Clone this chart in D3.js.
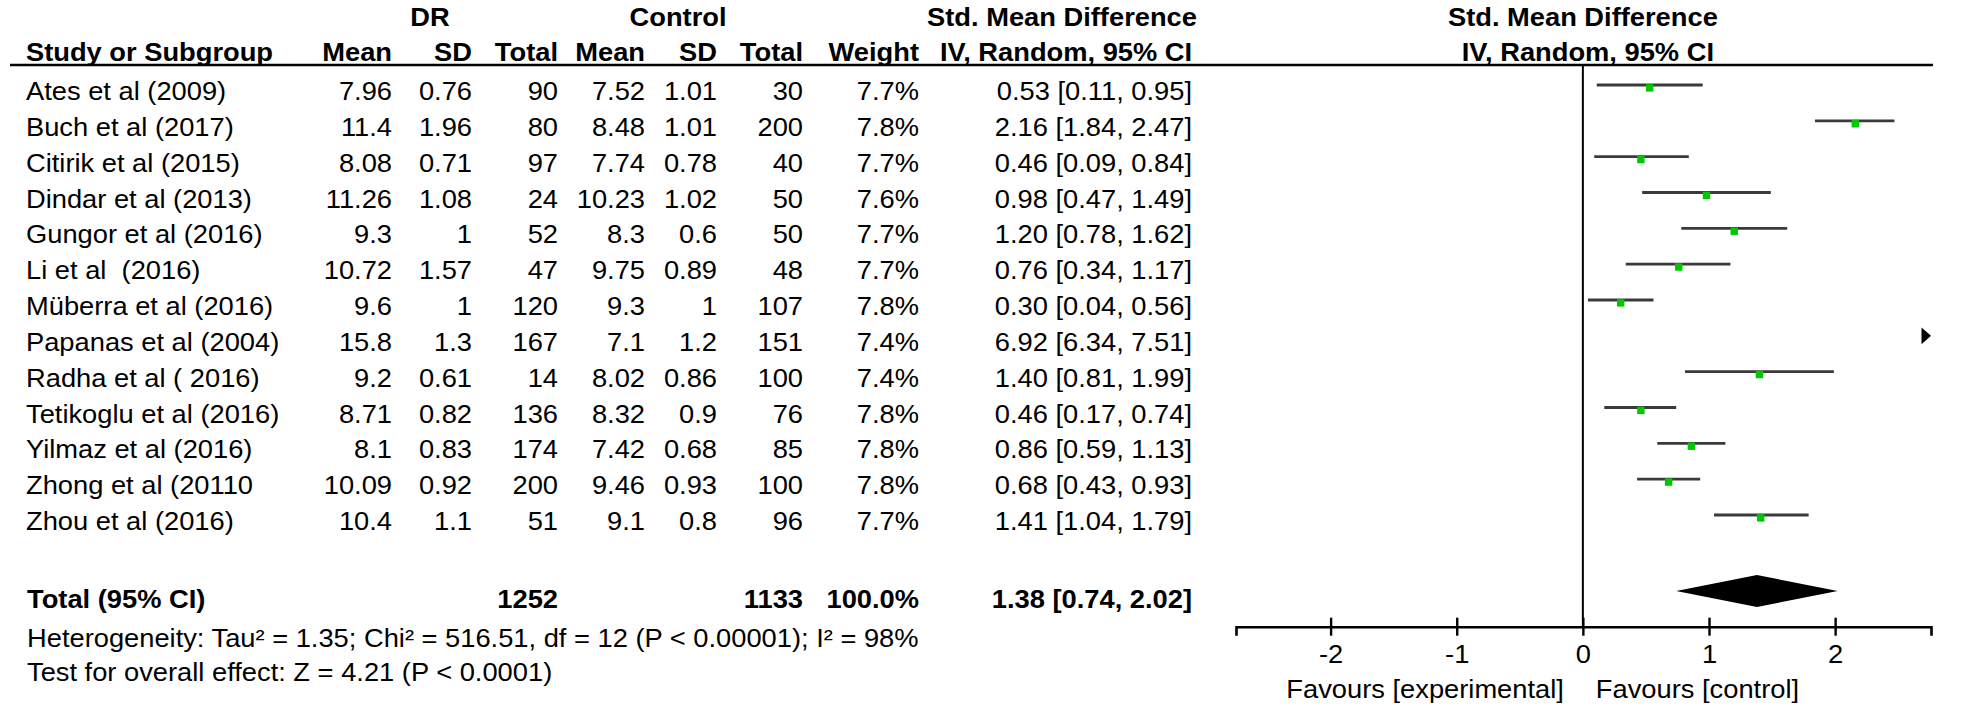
<!DOCTYPE html>
<html>
<head>
<meta charset="utf-8">
<script src="https://cdn.jsdelivr.net/npm/d3@7"></script>
<style>
  html, body { margin: 0; padding: 0; background: #fff; }
  svg { display: block; }
  text { font-family: "Liberation Sans", Arial, sans-serif; fill: #000; white-space: pre; }
</style>
</head>
<body>
<svg id="chart" width="1961" height="708"></svg>
<script>
// ---------------- data ----------------
const studies = ["Ates et al (2009)", "Buch et al (2017)", "Citirik et al (2015)", "Dindar et al (2013)",
  "Gungor et al (2016)", "Li et al  (2016)", "Müberra et al (2016)", "Papanas et al (2004)",
  "Radha et al ( 2016)", "Tetikoglu et al (2016)", "Yilmaz et al (2016)", "Zhong et al (20110",
  "Zhou et al (2016)"];
const drMean = [7.96, 11.4, 8.08, 11.26, 9.3, 10.72, 9.6, 15.8, 9.2, 8.71, 8.1, 10.09, 10.4];
const drSD = [0.76, 1.96, 0.71, 1.08, 1, 1.57, 1, 1.3, 0.61, 0.82, 0.83, 0.92, 1.1];
const drTotal = [90, 80, 97, 24, 52, 47, 120, 167, 14, 136, 174, 200, 51];
const ctMean = [7.52, 8.48, 7.74, 10.23, 8.3, 9.75, 9.3, 7.1, 8.02, 8.32, 7.42, 9.46, 9.1];
const ctSD = [1.01, 1.01, 0.78, 1.02, 0.6, 0.89, 1, 1.2, 0.86, 0.9, 0.68, 0.93, 0.8];
const ctTotal = [30, 200, 40, 50, 50, 48, 107, 151, 100, 76, 85, 100, 96];
const weight = [7.7, 7.8, 7.7, 7.6, 7.7, 7.7, 7.8, 7.4, 7.4, 7.8, 7.8, 7.8, 7.7];
const smd = [0.53, 2.16, 0.46, 0.98, 1.20, 0.76, 0.30, 6.92, 1.40, 0.46, 0.86, 0.68, 1.41];
const ciLow = [0.11, 1.84, 0.09, 0.47, 0.78, 0.34, 0.04, 6.34, 0.81, 0.17, 0.59, 0.43, 1.04];
const ciHigh = [0.95, 2.47, 0.84, 1.49, 1.62, 1.17, 0.56, 7.51, 1.99, 0.74, 1.13, 0.93, 1.79];

const totalDR = 1252, totalCt = 1133, totalWeight = 100.0;
const totalSMD = 1.38, totalLow = 0.74, totalHigh = 2.02;
const heterogeneityText = "Heterogeneity: Tau² = 1.35; Chi² = 516.51, df = 12 (P < 0.00001); I² = 98%";
const overallText = "Test for overall effect: Z = 4.21 (P < 0.0001)";
const axisTicks = [-2, -1, 0, 1, 2];
const axisDomain = [-2.75, 2.76];
const favourLeft = "Favours [experimental]", favourRight = "Favours [control]";

// ---------------- layout ----------------
const FS = 26, SX = 1.05;
const svg = d3.select("#chart");
const x = d3.scaleLinear().domain(axisDomain).range([1236, 1931]);
const rowY = d3.scaleLinear().domain([0, studies.length - 1]).range([100, 530]);

function txt(xp, yp, s, anchor, bold, size) {
  return svg.append("text")
    .attr("transform", `translate(${xp},${yp}) scale(${SX},1)`)
    .attr("text-anchor", anchor || "start")
    .attr("font-size", size || FS)
    .attr("font-weight", bold ? "bold" : "normal")
    .text(s);
}

const cols = [
  { key: "drMean", x: 392, head: "Mean", vals: drMean },
  { key: "drSD", x: 472, head: "SD", vals: drSD },
  { key: "drTotal", x: 558, head: "Total", vals: drTotal },
  { key: "ctMean", x: 645, head: "Mean", vals: ctMean },
  { key: "ctSD", x: 717, head: "SD", vals: ctSD },
  { key: "ctTotal", x: 803, head: "Total", vals: ctTotal },
  { key: "weight", x: 919, head: "Weight", vals: weight.map(w => w.toFixed(1) + "%") }
];
const ciX = 1192, ciHeadX = 1062;
const nameX = 26;
const h1 = 26, h2 = 60.5, ruleY = 65;

// header row 1
txt(430, h1, "DR", "middle", true);
txt(678, h1, "Control", "middle", true);
txt(ciHeadX, h1, "Std. Mean Difference", "middle", true);
txt(x(0), h1, "Std. Mean Difference", "middle", true);
// header row 2
txt(nameX, h2, "Study or Subgroup", "start", true);
cols.forEach(c => txt(c.x, h2, c.head, "end", true));
txt(ciHeadX + 4, h2, "IV, Random, 95% CI", "middle", true);
txt(x(0) + 5, h2, "IV, Random, 95% CI", "middle", true);

// rule
svg.append("line").attr("x1", 10).attr("x2", 1933).attr("y1", ruleY).attr("y2", ruleY)
  .attr("stroke", "#000").attr("stroke-width", 2.5);

// rows
studies.forEach((s, i) => {
  const y = rowY(i);
  txt(nameX, y, s, "start", false);
  cols.forEach(c => txt(c.x, y, String(c.vals[i]), "end", false));
  txt(ciX, y, `${smd[i].toFixed(2)} [${ciLow[i].toFixed(2)}, ${ciHigh[i].toFixed(2)}]`, "end", false);
});

// totals
const totY = 608;
txt(nameX + 1, totY, "Total (95% CI)", "start", true);
txt(cols[2].x, totY, String(totalDR), "end", true);
txt(cols[5].x, totY, String(totalCt), "end", true);
txt(cols[6].x, totY, totalWeight.toFixed(1) + "%", "end", true);
txt(ciX, totY, `${totalSMD.toFixed(2)} [${totalLow.toFixed(2)}, ${totalHigh.toFixed(2)}]`, "end", true);
txt(nameX + 1, 646.5, heterogeneityText, "start", false);
txt(nameX + 1, 680.5, overallText, "start", false);

// ---------------- forest plot ----------------
const axisY = 626.7;
// zero line
svg.append("line").attr("x1", x(0)).attr("x2", x(0)).attr("y1", ruleY).attr("y2", axisY)
  .attr("stroke", "#000").attr("stroke-width", 2);

const [dMin, dMax] = x.domain();
const g = svg.append("g");
studies.forEach((s, i) => {
  const by = rowY(i) - 15;
  if (smd[i] > dMax) {
    g.append("path")
      .attr("d", `M${x(dMax)},${by} L${x(dMax) - 9.5},${by - 8.3} L${x(dMax) - 9.5},${by + 8.3} Z`)
      .attr("fill", "#000");
    return;
  }
  g.append("line")
    .attr("x1", x(Math.max(ciLow[i], dMin))).attr("x2", x(Math.min(ciHigh[i], dMax)))
    .attr("y1", by).attr("y2", by)
    .attr("stroke", "#3a3a3a").attr("stroke-width", 2.8);
  g.append("rect")
    .attr("x", x(smd[i]) - 3.7).attr("y", by - 0.8)
    .attr("width", 7.4).attr("height", 7.4)
    .attr("fill", "#00c800");
});

// diamond
const dy = 591, dh = 16;
svg.append("path")
  .attr("d", `M${x(totalLow)},${dy} L${x(totalSMD)},${dy - dh} L${x(totalHigh)},${dy} L${x(totalSMD)},${dy + dh} Z`)
  .attr("fill", "#000");

// axis
const axis = d3.axisBottom(x).tickValues(axisTicks).tickSizeOuter(0).tickSize(9).tickPadding(10)
  .tickFormat(d => String(d));
const ag = svg.append("g").attr("transform", `translate(0,${axisY})`).call(axis);
ag.select(".domain").attr("stroke", "#000").attr("stroke-width", 2.6);
ag.selectAll(".tick line").attr("y1", -9).attr("y2", 9).attr("stroke", "#000").attr("stroke-width", 2.4);
ag.selectAll(".tick text")
  .attr("font-family", "'Liberation Sans', Arial, sans-serif")
  .attr("font-size", FS).attr("fill", "#000")
  .attr("dy", null).attr("y", 36)
  .attr("transform", `scale(${SX},1)`);

txt(x(0) - 19, 697.5, favourLeft, "end", false);
txt(x(0) + 13, 697.5, favourRight, "start", false);
</script>
</body>
</html>
